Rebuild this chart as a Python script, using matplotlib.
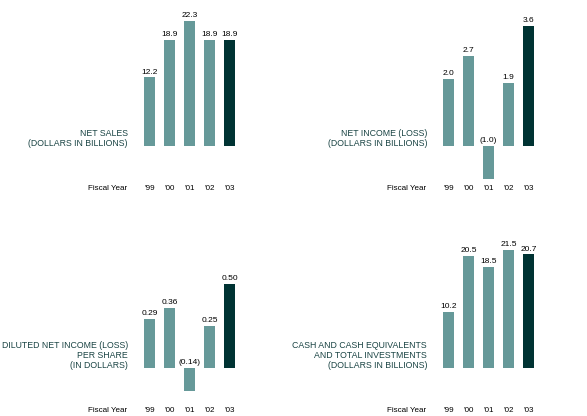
import matplotlib
matplotlib.use("Agg")
import matplotlib.pyplot as plt

plt.rcParams['font.family'] = ['Liberation Sans', 'DejaVu Sans']

years = ["'99", "'00", "'01", "'02", "'03"]
net_sales = [12.2, 18.9, 22.3, 18.9, 18.9]
net_sales_labels = ["12.2", "18.9", "22.3", "18.9", "18.9"]
net_income = [2.0, 2.7, -1.0, 1.9, 3.6]
net_income_labels = ["2.0", "2.7", "(1.0)", "1.9", "3.6"]
eps = [0.29, 0.36, -0.14, 0.25, 0.50]
eps_labels = ["0.29", "0.36", "(0.14)", "0.25", "0.50"]
cash = [10.2, 20.5, 18.5, 21.5, 20.7]
cash_labels = ["10.2", "20.5", "18.5", "21.5", "20.7"]

titles = [
    "NET SALES\n(DOLLARS IN BILLIONS)",
    "NET INCOME (LOSS)\n(DOLLARS IN BILLIONS)",
    "DILUTED NET INCOME (LOSS)\nPER SHARE\n(IN DOLLARS)",
    "CASH AND CASH EQUIVALENTS\nAND TOTAL INVESTMENTS\n(DOLLARS IN BILLIONS)",
]

TEAL = "#669999"
DARK = "#003333"
TITLE_C = "#1a4444"

W, H = 587, 416
fig = plt.figure(figsize=(W / 100, H / 100), dpi=100)

PITCH = 20.0
BARW = 11.0

def panel(values, labels, title, c0, base, scale, top, bottom, fy):
    left = c0 - 7.4 * PITCH
    right = c0 + 5 * PITCH
    ax = fig.add_axes([left / W, 1 - bottom / H, (right - left) / W, (bottom - top) / H])
    ax.set_xlim(-7.4, 5.0)
    ax.set_ylim((base - bottom) / scale, (base - top) / scale)
    ax.axis('off')
    x = list(range(len(values)))
    colors = [TEAL] * (len(values) - 1) + [DARK]
    ax.bar(x, values, width=BARW / PITCH, color=colors, linewidth=0)
    for xi, v, lab in zip(x, values, labels):
        ax.annotate(lab, (xi, max(v, 0)), xytext=(0, 1.3), textcoords='offset points',
                    ha='center', va='bottom', fontsize=6.0, color='black')
    # category title, right-aligned left of the bars
    ax.annotate(title, (-1.075, 0), xytext=(0, -1.6), textcoords='offset points',
                ha='right', va='bottom', fontsize=6.3, color=TITLE_C,
                multialignment='right', linespacing=1.15)
    # fiscal year row
    yfy = (base - fy) / scale
    ax.text(-1.12, yfy, "Fiscal Year", ha='right', va='center', fontsize=5.8, color='black')
    for xi, yl in zip(x, years):
        ax.text(xi, yfy, yl, ha='center', va='center', fontsize=5.8, color='black')
    return ax

panel(net_sales, net_sales_labels, titles[0], 149.5, 145.7, 5.6, 0, 200, 188.3)
panel(net_income, net_income_labels, titles[1], 448.5, 145.7, 33.2, 0, 200, 188.3)
panel(eps, eps_labels, titles[2], 149.5, 367.7, 167.0, 210, 416, 411.0)
panel(cash, cash_labels, titles[3], 448.5, 367.7, 5.47, 210, 416, 411.0)

fig.savefig("out.png", dpi=100)
